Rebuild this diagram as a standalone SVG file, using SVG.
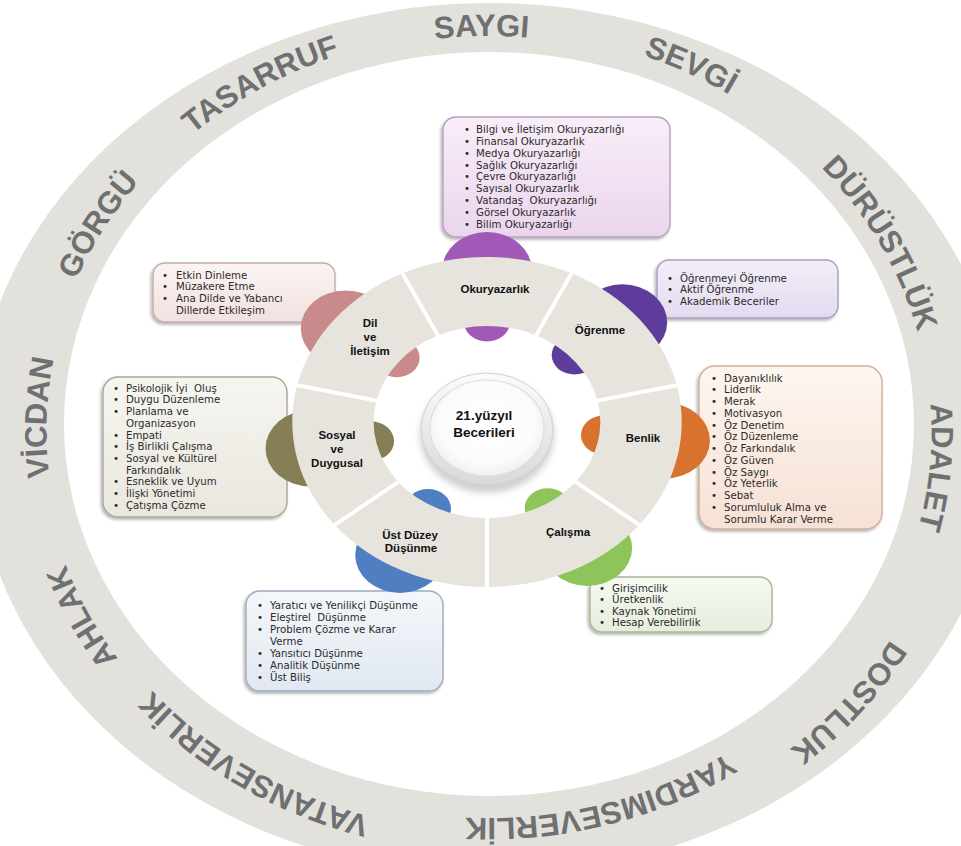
<svg xmlns="http://www.w3.org/2000/svg" width="961" height="846" viewBox="0 0 961 846">
<style>
.seg{fill:#e6e4dd}
.box{stroke-width:1.4;filter:url(#sh)}
.bt{font-family:"DejaVu Sans",sans-serif;font-size:10.2px;fill:#2b2b2b;white-space:pre}
.bul{font-family:"DejaVu Sans",sans-serif;font-size:10.2px;fill:#2b2b2b;text-anchor:middle}
.lbl{font-family:"Liberation Sans",Arial,sans-serif;font-weight:bold;font-size:11.5px;fill:#111;text-anchor:middle}
.ring{font-family:"Liberation Sans",Arial,sans-serif;font-weight:bold;font-size:31px;fill:#6f7072}
.div{stroke:#fff;stroke-width:4;vector-effect:non-scaling-stroke}
</style>
<defs>
<filter id="sh" x="-10%" y="-10%" width="125%" height="130%"><feDropShadow dx="-1.5" dy="2" stdDeviation="1.5" flood-color="#000" flood-opacity="0.3"/></filter>
<filter id="blur" x="-20%" y="-20%" width="140%" height="140%"><feGaussianBlur stdDeviation="3"/></filter>
<linearGradient id="g1" x1="0" y1="0" x2="0" y2="1"><stop offset="0" stop-color="#f8eef8"/><stop offset="1" stop-color="#ebd5ed"/></linearGradient>
<linearGradient id="g2" x1="0" y1="0" x2="0" y2="1"><stop offset="0" stop-color="#fbf4f3"/><stop offset="1" stop-color="#f1e1e0"/></linearGradient>
<linearGradient id="g3" x1="0" y1="0" x2="0" y2="1"><stop offset="0" stop-color="#f3eff9"/><stop offset="1" stop-color="#e3daef"/></linearGradient>
<linearGradient id="g4" x1="0" y1="0" x2="0" y2="1"><stop offset="0" stop-color="#f6f5f0"/><stop offset="1" stop-color="#e9e7de"/></linearGradient>
<linearGradient id="g5" x1="0" y1="0" x2="0" y2="1"><stop offset="0" stop-color="#fdf6f0"/><stop offset="1" stop-color="#f6e1d4"/></linearGradient>
<linearGradient id="g6" x1="0" y1="0" x2="0" y2="1"><stop offset="0" stop-color="#f4f7fb"/><stop offset="1" stop-color="#e1e8f1"/></linearGradient>
<linearGradient id="g7" x1="0" y1="0" x2="0" y2="1"><stop offset="0" stop-color="#f6f9f2"/><stop offset="1" stop-color="#e6eddd"/></linearGradient>
<linearGradient id="rim" x1="0" y1="0" x2="0" y2="1"><stop offset="0" stop-color="#fbfbfb"/><stop offset="1" stop-color="#d9d9d9"/></linearGradient>
<radialGradient id="core" cx="0.5" cy="0.45" r="0.6"><stop offset="0" stop-color="#ffffff"/><stop offset="0.7" stop-color="#fbfbfb"/><stop offset="1" stop-color="#ebebeb"/></radialGradient>
<path id="a1" d="M201.6 133 A438 395.5 0 0 1 764.6 124.2"/>
<path id="a2" d="M393 40.2 A443.8 400.8 0 0 1 899 278.1"/>
<path id="a3" d="M661.9 63.7 A442.5 399.6 0 0 1 920.2 521.4"/>
<path id="a4" d="M850.6 201.2 A442.5 399.6 0 0 1 803 713.1"/>
<path id="a5" d="M951.6 421.3 A462.7 417.9 0 0 1 580.5 841.2"/>
<path id="a6" d="M843.1 648.8 A428.1 386.6 0 0 1 313.5 784.1"/>
<path id="a7" d="M539.1 828.5 A442.5 399.6 0 0 1 64.7 545"/>
<path id="a8" d="M304.5 800.4 A448.3 404.8 0 0 1 54.6 331.5"/>
<path id="a9" d="M140.8 678.1 A442.5 399.6 0 0 1 159.6 164.6"/>
<path id="a10" d="M51.3 506.9 A445.6 402.4 0 0 1 330.8 55.3"/>
<path id="a11" d="M68.2 306.6 A442.9 400 0 0 1 552.2 35.6"/>
</defs>
<rect width="961" height="846" fill="#ffffff"/>

<g id="values-ring">
<path fill="#e3e1db" fill-rule="evenodd" d="M489 3 A515 436 0 1 1 489 875 A515 436 0 1 1 489 3 Z M489 52 A425 372 0 1 0 489 796 A425 372 0 1 0 489 52 Z"/>
<text class="ring"><textPath href="#a1" startOffset="50%" text-anchor="middle">SAYGI</textPath></text>
<text class="ring"><textPath href="#a2" startOffset="50%" text-anchor="middle">SEVGİ</textPath></text>
<text class="ring"><textPath href="#a3" startOffset="50%" text-anchor="middle">DÜRÜSTLÜK</textPath></text>
<text class="ring"><textPath href="#a4" startOffset="50%" text-anchor="middle">ADALET</textPath></text>
<text class="ring"><textPath href="#a5" startOffset="50%" text-anchor="middle">DOSTLUK</textPath></text>
<text class="ring"><textPath href="#a6" startOffset="50%" text-anchor="middle">YARDIMSEVERLİK</textPath></text>
<text class="ring"><textPath href="#a7" startOffset="50%" text-anchor="middle">VATANSEVERLİK</textPath></text>
<text class="ring"><textPath href="#a8" startOffset="50%" text-anchor="middle">AHLAK</textPath></text>
<text class="ring"><textPath href="#a9" startOffset="50%" text-anchor="middle">VİCDAN</textPath></text>
<text class="ring"><textPath href="#a10" startOffset="50%" text-anchor="middle">GÖRGÜ</textPath></text>
<text class="ring"><textPath href="#a11" startOffset="50%" text-anchor="middle">TASARRUF</textPath></text>
</g>

<g id="node-okuryazarlik">
<rect class="box" x="443" y="117" width="227" height="120" rx="13" fill="url(#g1)" stroke="#b89dc2"/>
<text class="bul"><tspan x="467" y="133.2">•</tspan><tspan x="467" y="145">•</tspan><tspan x="467" y="156.8">•</tspan><tspan x="467" y="168.6">•</tspan><tspan x="467" y="180.4">•</tspan><tspan x="467" y="192.2">•</tspan><tspan x="467" y="204">•</tspan><tspan x="467" y="215.8">•</tspan><tspan x="467" y="227.6">•</tspan></text>
<text class="bt"><tspan x="476" y="133.2">Bilgi ve İletişim Okuryazarlığı</tspan><tspan x="476" y="145">Finansal Okuryazarlık</tspan><tspan x="476" y="156.8">Medya Okuryazarlığı</tspan><tspan x="476" y="168.6">Sağlık Okuryazarlığı</tspan><tspan x="476" y="180.4">Çevre Okuryazarlığı</tspan><tspan x="476" y="192.2">Sayısal Okuryazarlık</tspan><tspan x="476" y="204">Vatandaş  Okuryazarlığı</tspan><tspan x="476" y="215.8">Görsel Okuryazarlık</tspan><tspan x="476" y="227.6">Bilim Okuryazarlığı</tspan></text>
<g transform="translate(487,422) scale(1.18,1)">
<circle cx="0" cy="-152" r="38" fill="#a059b6"/>
<circle cx="0" cy="-100" r="19.5" fill="#a059b6"/>
<path class="seg" d="M-71.6 -148.7 A165 165 0 0 1 71.6 -148.7 L41.7 -86.5 A96 96 0 0 0 -41.7 -86.5 Z"/>
</g>
<text class="lbl" x="495" y="293">Okuryazarlık</text>
</g>

<g id="node-ogrenme">
<rect class="box" x="657" y="260" width="181" height="58" rx="12" fill="url(#g3)" stroke="#a99cc3"/>
<text class="bul"><tspan x="670" y="281.5">•</tspan><tspan x="670" y="293">•</tspan><tspan x="670" y="304.5">•</tspan></text>
<text class="bt"><tspan x="680" y="281.5">Öğrenmeyi Öğrenme</tspan><tspan x="680" y="293">Aktif Öğrenme</tspan><tspan x="680" y="304.5">Akademik Beceriler</tspan></text>
<g transform="translate(487,422) scale(1.18,1)">
<circle cx="114.7" cy="-99.7" r="38" fill="#5d3c9b"/>
<circle cx="74.3" cy="-66.9" r="19.5" fill="#5d3c9b"/>
<path class="seg" d="M71.6 -148.7 A165 165 0 0 1 160.9 -36.7 L93.6 -21.4 A96 96 0 0 0 41.7 -86.5 Z"/>
</g>
<text class="lbl" x="600" y="334">Öğrenme</text>
</g>

<g id="node-benlik">
<rect class="box" x="699" y="366" width="183" height="163" rx="16" fill="url(#g5)" stroke="#d2ad96"/>
<text class="bul"><tspan x="714" y="381.7">•</tspan><tspan x="714" y="393.45">•</tspan><tspan x="714" y="405.2">•</tspan><tspan x="714" y="416.95">•</tspan><tspan x="714" y="428.7">•</tspan><tspan x="714" y="440.45">•</tspan><tspan x="714" y="452.2">•</tspan><tspan x="714" y="463.95">•</tspan><tspan x="714" y="475.7">•</tspan><tspan x="714" y="487.45">•</tspan><tspan x="714" y="499.2">•</tspan><tspan x="714" y="510.95">•</tspan></text>
<text class="bt"><tspan x="724" y="381.7">Dayanıklılık</tspan><tspan x="724" y="393.45">Liderlik</tspan><tspan x="724" y="405.2">Merak</tspan><tspan x="724" y="416.95">Motivasyon</tspan><tspan x="724" y="428.7">Öz Denetim</tspan><tspan x="724" y="440.45">Öz Düzenleme</tspan><tspan x="724" y="452.2">Öz Farkındalık</tspan><tspan x="724" y="463.95">Öz Güven</tspan><tspan x="724" y="475.7">Öz Saygı</tspan><tspan x="724" y="487.45">Öz Yeterlik</tspan><tspan x="724" y="499.2">Sebat</tspan><tspan x="724" y="510.95">Sorumluluk Alma ve</tspan><tspan x="724" y="522.7">Sorumlu Karar Verme</tspan></text>
<g transform="translate(487,422) scale(1.18,1)">
<circle cx="150.9" cy="18.5" r="38" fill="#d8732f"/>
<circle cx="99.1" cy="13.1" r="19.5" fill="#d8732f"/>
<path class="seg" d="M160.9 -36.7 A165 165 0 0 1 129 102.9 L75.1 59.9 A96 96 0 0 0 93.6 -21.4 Z"/>
</g>
<text class="lbl" x="643" y="442">Benlik</text>
</g>

<g id="node-calisma">
<rect class="box" x="590" y="577" width="182" height="55" rx="12" fill="url(#g7)" stroke="#a7b795"/>
<text class="bul"><tspan x="602" y="591.7">•</tspan><tspan x="602" y="603.2">•</tspan><tspan x="602" y="614.7">•</tspan><tspan x="602" y="626.2">•</tspan></text>
<text class="bt"><tspan x="612" y="591.7">Girişimcilik</tspan><tspan x="612" y="603.2">Üretkenlik</tspan><tspan x="612" y="614.7">Kaynak Yönetimi</tspan><tspan x="612" y="626.2">Hesap Verebilirlik</tspan></text>
<g transform="translate(487,422) scale(1.18,1)">
<circle cx="85" cy="126" r="38" fill="#8dc55b"/>
<circle cx="51.5" cy="85.7" r="19.5" fill="#8dc55b"/>
<path class="seg" d="M129 102.9 A165 165 0 0 1 0 165 L0 96 A96 96 0 0 0 75.1 59.9 Z"/>
</g>
<text class="lbl" x="568" y="536">Çalışma</text>
</g>

<g id="node-ust-duzey-dusunme">
<rect class="box" x="246" y="591" width="197" height="100" rx="14" fill="url(#g6)" stroke="#9dabbe"/>
<text class="bul"><tspan x="260" y="608.7">•</tspan><tspan x="260" y="620.7">•</tspan><tspan x="260" y="632.7">•</tspan><tspan x="260" y="656.7">•</tspan><tspan x="260" y="668.7">•</tspan><tspan x="260" y="680.7">•</tspan></text>
<text class="bt"><tspan x="270" y="608.7">Yaratıcı ve Yenilikçi Düşünme</tspan><tspan x="270" y="620.7">Eleştirel  Düşünme</tspan><tspan x="270" y="632.7">Problem Çözme ve Karar</tspan><tspan x="270" y="644.7">Verme</tspan><tspan x="270" y="656.7">Yansıtıcı Düşünme</tspan><tspan x="270" y="668.7">Analitik Düşünme</tspan><tspan x="270" y="680.7">Üst Biliş</tspan></text>
<g transform="translate(487,422) scale(1.18,1)">
<circle cx="-73.7" cy="132.9" r="38" fill="#4f7fc2"/>
<circle cx="-50" cy="86.6" r="19.5" fill="#4f7fc2"/>
<path class="seg" d="M0 165 A165 165 0 0 1 -129 102.9 L-75.1 59.9 A96 96 0 0 0 0 96 Z"/>
</g>
<text class="lbl" x="410" y="539">Üst Düzey</text>
<text class="lbl" x="411" y="552">Düşünme</text>
</g>

<g id="node-sosyal-duygusal">
<rect class="box" x="103" y="377" width="184" height="140" rx="15" fill="url(#g4)" stroke="#aaa796"/>
<text class="bul"><tspan x="116" y="391.7">•</tspan><tspan x="116" y="403.4">•</tspan><tspan x="116" y="415.1">•</tspan><tspan x="116" y="438.5">•</tspan><tspan x="116" y="450.2">•</tspan><tspan x="116" y="461.9">•</tspan><tspan x="116" y="485.3">•</tspan><tspan x="116" y="497">•</tspan><tspan x="116" y="508.7">•</tspan></text>
<text class="bt"><tspan x="126" y="391.7">Psikolojik İyi  Oluş</tspan><tspan x="126" y="403.4">Duygu Düzenleme</tspan><tspan x="126" y="415.1">Planlama ve</tspan><tspan x="126" y="426.8">Organizasyon</tspan><tspan x="126" y="438.5">Empati</tspan><tspan x="126" y="450.2">İş Birlikli Çalışma</tspan><tspan x="126" y="461.9">Sosyal ve Kültürel</tspan><tspan x="126" y="473.6">Farkındalık</tspan><tspan x="126" y="485.3">Esneklik ve Uyum</tspan><tspan x="126" y="497">İlişki Yönetimi</tspan><tspan x="126" y="508.7">Çatışma Çözme</tspan></text>
<g transform="translate(487,422) scale(1.18,1)">
<circle cx="-149.7" cy="26.4" r="38" fill="#867f55"/>
<circle cx="-98.2" cy="19.1" r="19.5" fill="#867f55"/>
<path class="seg" d="M-129 102.9 A165 165 0 0 1 -160.9 -36.7 L-93.6 -21.4 A96 96 0 0 0 -75.1 59.9 Z"/>
</g>
<text class="lbl" x="337" y="439">Sosyal</text>
<text class="lbl" x="337" y="453">ve</text>
<text class="lbl" x="337" y="467">Duygusal</text>
</g>

<g id="node-dil-iletisim">
<rect class="box" x="153" y="263" width="182" height="59" rx="12" fill="url(#g2)" stroke="#c5aaaa"/>
<text class="bul"><tspan x="165" y="278.7">•</tspan><tspan x="165" y="290.4">•</tspan><tspan x="165" y="302.1">•</tspan></text>
<text class="bt"><tspan x="176" y="278.7">Etkin Dinleme</tspan><tspan x="176" y="290.4">Müzakere Etme</tspan><tspan x="176" y="302.1">Ana Dilde ve Yabancı</tspan><tspan x="176" y="313.8">Dillerde Etkileşim</tspan></text>
<g transform="translate(487,422) scale(1.18,1)">
<circle cx="-119.8" cy="-93.6" r="38" fill="#c98a8b"/>
<circle cx="-76.6" cy="-64.3" r="19.5" fill="#c98a8b"/>
<path class="seg" d="M-160.9 -36.7 A165 165 0 0 1 -71.6 -148.7 L-41.7 -86.5 A96 96 0 0 0 -93.6 -21.4 Z"/>
</g>
<text class="lbl" x="370" y="327">Dil</text>
<text class="lbl" x="370" y="341">ve</text>
<text class="lbl" x="370" y="355">İletişim</text>
</g>

<g id="dividers" transform="translate(487,422) scale(1.18,1)">
<line class="div" x1="40.8" y1="-84.7" x2="72.5" y2="-150.5"/>
<line class="div" x1="91.6" y1="-20.9" x2="162.8" y2="-37.2"/>
<line class="div" x1="73.5" y1="58.6" x2="130.6" y2="104.1"/>
<line class="div" x1="0" y1="94" x2="0" y2="167"/>
<line class="div" x1="-73.5" y1="58.6" x2="-130.6" y2="104.1"/>
<line class="div" x1="-91.6" y1="-20.9" x2="-162.8" y2="-37.2"/>
<line class="div" x1="-40.8" y1="-84.7" x2="-72.5" y2="-150.5"/>
</g>

<g id="center">
<ellipse cx="487" cy="435" rx="67" ry="58" fill="#9a9a9a" opacity="0.45" filter="url(#blur)"/>
<ellipse cx="487" cy="429" rx="66" ry="56" fill="url(#rim)" stroke="#d2d2d2" stroke-width="1"/>
<ellipse cx="487" cy="428" rx="57" ry="48" fill="url(#core)" stroke="#dedede" stroke-width="1.2"/>
<text class="lbl" style="font-size:13.5px" x="484" y="420">21.yüzyıl</text>
<text class="lbl" style="font-size:13.5px" x="484" y="437">Becerileri</text>
</g>
</svg>
